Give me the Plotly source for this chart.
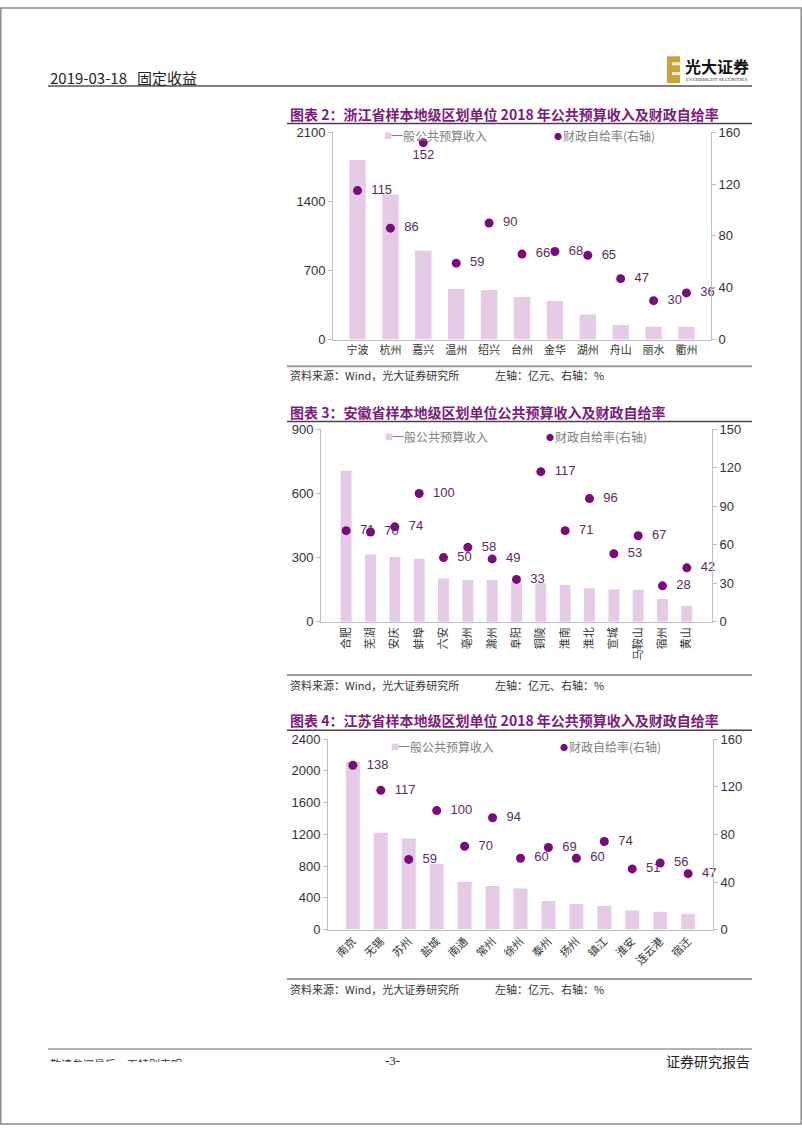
import plotly.graph_objects as go

W, H = 802, 1133

# ---------------- data ----------------
zj_cities = ["宁波", "杭州", "嘉兴", "温州", "绍兴", "台州", "金华", "湖州", "舟山", "丽水", "衢州"]
zj_revenue = [1820, 1470, 900, 513, 503, 430, 390, 253, 147, 130, 130]
zj_ratio = [115, 86, 152, 59, 90, 66, 68, 65, 47, 30, 36]

ah_cities = ["合肥", "芜湖", "安庆", "蚌埠", "六安", "亳州", "滁州", "阜阳", "铜陵", "淮南",
             "淮北", "宣城", "马鞍山", "宿州", "黄山"]
ah_revenue = [706, 314, 303, 295, 202, 195, 195, 186, 180, 172, 157, 152, 150, 106, 75]
ah_ratio = [71, 70, 74, 100, 50, 58, 49, 33, 117, 71, 96, 53, 67, 28, 42]

js_cities = ["南京", "无锡", "苏州", "盐城", "南通", "常州", "徐州", "泰州", "扬州", "镇江",
             "淮安", "连云港", "宿迁"]
js_revenue = [2114, 1222, 1148, 829, 600, 551, 518, 360, 323, 298, 240, 224, 199]
js_ratio = [138, 117, 59, 100, 70, 94, 60, 69, 60, 74, 51, 56, 47]

titles = [
    "图表 2：浙江省样本地级区划单位 2018 年公共预算收入及财政自给率",
    "图表 3：安徽省样本地级区划单位公共预算收入及财政自给率",
    "图表 4：江苏省样本地级区划单位 2018 年公共预算收入及财政自给率",
]
legend_bar = "一般公共预算收入"
legend_dot = "财政自给率(右轴)"
source_text = "资料来源：Wind，光大证券研究所"
unit_text = "左轴：亿元、右轴：%"

# ---------------- styles ----------------
BAR_COLOR = "#e6cbe6"
DOT_COLOR = "#7b0b7b"
LABEL_COLOR = "#5e2a5e"
AXIS_COLOR = "#bfbfbf"
TITLE_COLOR = "#7d1a7d"
CJK = "Noto Sans CJK SC"
LAT = "Liberation Sans, Arial"
NB = "\u00a0\u00a0"


def px(x):
    return x / W


def py(y):
    return 1 - y / H


fig = go.Figure()

charts = [
    dict(cities=zj_cities, rev=zj_revenue, ratio=zj_ratio, xa="x", ya="y", ya2="y2",
         x0=333, x1=711, y0=127, y1=337, lrange=2100, ldt=700, rrange=160, rdt=40,
         tickangle=0, width=0.5, title_y=108, uline=118, leg_y=130, leg_x1=382, leg_x2=552,
         src_line=364, src_y=373,
         pos=["middle right", "middle right", "bottom center"] + ["middle right"] * 8),
    dict(cities=ah_cities, rev=ah_revenue, ratio=ah_ratio, xa="x2", ya="y3", ya2="y4",
         x0=321, x1=712, y0=428, y1=623, lrange=900, ldt=300, rrange=150, rdt=30,
         tickangle=-90, width=0.45, title_y=410, uline=420, leg_y=435, leg_x1=383, leg_x2=544,
         src_line=677, src_y=687,
         pos=["middle right"] * 15),
    dict(cities=js_cities, rev=js_revenue, ratio=js_ratio, xa="x3", ya="y5", ya2="y6",
         x0=328, x1=713, y0=742, y1=935, lrange=2400, ldt=400, rrange=160, rdt=40,
         tickangle=-45, width=0.5, title_y=723, uline=733, leg_y=749, leg_x1=389, leg_x2=558,
         src_line=985, src_y=995,
         pos=["middle right"] * 13),
]

annotations = []
shapes = []


def add_text(x, y, text, size, color, family=CJK, xanchor="left", yanchor="middle", **kw):
    annotations.append(dict(
        xref="paper", yref="paper", x=px(x), y=py(y), text=text, showarrow=False,
        xanchor=xanchor, yanchor=yanchor, font=dict(size=size, color=color, family=family), **kw))


def add_line(x0, y0, x1, y1, color, width):
    shapes.append(dict(type="line", xref="paper", yref="paper", x0=px(x0), y0=py(y0),
                       x1=px(x1), y1=py(y1), line=dict(color=color, width=width)))


layout_axes = {}
for i, c in enumerate(charts):
    n = "" if i == 0 else str(i + 1)
    yl = "" if i == 0 else str(2 * i + 1)
    yr = str(2 * i + 2)
    labels = []
    for v, p in zip(c["ratio"], c["pos"]):
        labels.append(NB + str(v) if p == "middle right" else str(v))
    fig.add_trace(go.Bar(x=c["cities"], y=c["rev"], xaxis=c["xa"], yaxis=c["ya"],
                         marker=dict(color=BAR_COLOR, line=dict(width=0)),
                         width=c["width"], showlegend=False, hoverinfo="skip"))
    fig.add_trace(go.Scatter(x=c["cities"], y=c["ratio"], xaxis=c["xa"], yaxis=c["ya2"],
                             mode="markers+text", text=labels,
                             textposition=c["pos"], cliponaxis=False,
                             textfont=dict(size=13, color=LABEL_COLOR, family=LAT),
                             marker=dict(color=DOT_COLOR, size=9),
                             showlegend=False, hoverinfo="skip"))
    layout_axes["xaxis" + n] = dict(
        domain=[px(c["x0"]), px(c["x1"])], anchor=c["ya"], type="category",
        showline=True, linecolor=AXIS_COLOR, linewidth=1, ticks="", showgrid=False,
        tickangle=c["tickangle"], tickfont=dict(size=11, color="#333", family=CJK),
        fixedrange=True)
    layout_axes["yaxis" + yl] = dict(
        domain=[py(c["y1"]), py(c["y0"])], anchor=c["xa"], range=[0, c["lrange"]],
        dtick=c["ldt"], tick0=0, showgrid=False, zeroline=False, showline=True,
        linecolor=AXIS_COLOR, linewidth=1, ticks="outside", ticklen=4, tickcolor=AXIS_COLOR,
        tickfont=dict(size=13, color="#333", family=LAT))
    layout_axes["yaxis" + yr] = dict(
        overlaying=c["ya"], side="right", anchor=c["xa"], range=[0, c["rrange"]],
        dtick=c["rdt"], tick0=0, showgrid=False, zeroline=False, showline=True,
        linecolor=AXIS_COLOR, linewidth=1, ticks="outside", ticklen=4, tickcolor=AXIS_COLOR,
        tickfont=dict(size=13, color="#333", family=LAT))

    # title & rules
    add_text(288, c["title_y"], "<b>" + titles[i] + "</b>", 14, TITLE_COLOR)
    add_line(287, c["uline"], 752, c["uline"], "#444", 1.5)
    # legend
    add_text(c["leg_x1"], c["leg_y"], "■", 8, BAR_COLOR)
    add_text(c["leg_x1"] + 7, c["leg_y"], legend_bar, 12, "#808080")
    add_text(c["leg_x2"], c["leg_y"] + 1, "●", 8, DOT_COLOR)
    add_text(c["leg_x2"] + 9, c["leg_y"], legend_dot, 12, "#808080")
    # source
    add_line(287, c["src_line"], 752, c["src_line"], "#9a9a9a", 2)
    add_text(288, c["src_y"], source_text, 11, "#333")
    add_text(493, c["src_y"], unit_text, 11, "#333")

# ---------------- header ----------------
add_text(48, 71, "2019-03-18   固定收益", 15, "#222",
         family="Liberation Sans Narrow, Noto Sans CJK SC")
add_line(48, 80, 752, 80, "#555", 1.5)
# logo
shapes.append(dict(type="rect", xref="paper", yref="paper", x0=px(667), x1=px(680),
                   y0=py(77), y1=py(50), fillcolor="#c9a23c", line=dict(width=0)))
for yy in (56, 66):
    shapes.append(dict(type="rect", xref="paper", yref="paper", x0=px(672), x1=px(681),
                       y0=py(yy + 3), y1=py(yy), fillcolor="#fbf3dc", line=dict(width=0)))
add_text(683, 60, "<b>光大证券</b>", 16, "#111")
add_text(684, 73, "EVERBRIGHT SECURITIES", 5, "#333", family="Liberation Serif")

# ---------------- footer ----------------
add_line(48, 1056, 752, 1056, "#999", 1.5)
add_text(48, 1061, "敬请参阅最后一页特别声明", 11, "#333", yanchor="top", height=6, valign="top")
add_text(392, 1068, "-3-", 13, "#222", family="Liberation Serif", xanchor="center")
add_text(752, 1068, "证券研究报告", 14, "#222", xanchor="right")

# page border
shapes.append(dict(type="rect", xref="paper", yref="paper", x0=0.001, x1=0.999, y0=0.001, y1=0.999,
                   line=dict(color="#8a8a8a", width=1.5), fillcolor="rgba(0,0,0,0)"))

fig.update_layout(
    width=W, height=H, autosize=False,
    margin=dict(l=0, r=0, t=0, b=0),
    paper_bgcolor="white", plot_bgcolor="white",
    showlegend=False, annotations=annotations, shapes=shapes,
    **layout_axes,
)

fig.write_html("out.html", config={"displayModeBar": False},
               post_script="document.body.style.margin='0';document.body.style.overflow='hidden';")
